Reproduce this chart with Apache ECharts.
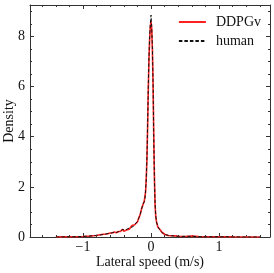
<!DOCTYPE html>
<html>
<head>
<meta charset="utf-8">
<script src="https://cdn.jsdelivr.net/npm/echarts@6/dist/echarts.min.js"></script>
<style>html,body{margin:0;padding:0;background:#fff;}#c{width:274px;height:273px;}</style>
</head>
<body>
<div id="c"></div>
<script>
var xs = [-1.40,-1.30,-1.20,-1.10,-1.00,-0.95,-0.90,-0.85,-0.80,-0.75,-0.70,-0.65,-0.60,-0.57,-0.54,-0.51,-0.48,-0.45,-0.42,-0.40,-0.38,-0.36,-0.34,-0.32,-0.30,-0.28,-0.26,-0.24,-0.22,-0.20,-0.18,-0.16,-0.14,-0.12,-0.10,-0.09,-0.08,-0.07,-0.06,-0.05,-0.04,-0.03,-0.02,-0.01,0,0.01,0.02,0.03,0.04,0.05,0.06,0.07,0.08,0.10,0.12,0.14,0.16,0.18,0.20,0.25,0.30,0.35,0.40,0.50,0.60,0.70,0.80,0.90,1.00,1.20,1.40,1.60];
var human = [0,0.005,0.01,0.01,0.02,0.03,0.04,0.05,0.07,0.08,0.10,0.13,0.15,0.17,0.19,0.18,0.21,0.23,0.30,0.24,0.28,0.26,0.33,0.30,0.38,0.45,0.42,0.50,0.55,0.62,0.75,0.90,1.10,1.30,1.40,1.50,1.85,2.3,3.2,4.5,6.0,7.2,8.0,8.5,8.85,8.4,7.6,6.2,4.0,2.3,1.3,0.85,0.6,0.42,0.32,0.28,0.18,0.13,0.10,0.07,0.05,0.04,0.03,0.025,0.03,0.015,0.01,0.01,0.01,0.005,0,0];
var ddpgv = [0,0.006,0.008,0.012,0.02,0.03,0.035,0.05,0.06,0.09,0.11,0.12,0.16,0.16,0.20,0.17,0.22,0.22,0.31,0.23,0.27,0.28,0.32,0.31,0.37,0.46,0.43,0.49,0.56,0.60,0.76,0.88,1.12,1.28,1.42,1.48,1.80,2.35,3.1,4.4,5.9,7.1,7.9,8.4,8.6,8.3,7.5,6.1,4.1,2.4,1.25,0.8,0.62,0.40,0.33,0.27,0.19,0.12,0.11,0.06,0.05,0.045,0.03,0.02,0.035,0.02,0.012,0.008,0.01,0.004,0,0];
var xMajor = [-1,0,1];
var xMinor = [-1.6,-1.4,-1.2,-0.8,-0.6,-0.4,-0.2,0.2,0.4,0.6,0.8,1.2,1.4,1.6];

function pairs(a){ return xs.map(function(x,i){ return [x,a[i]]; }); }
var font = '"Liberation Serif","DejaVu Serif",serif';
var frame = '#333';
var fmt = function(v){ return String(v).replace('-', '\u2212'); };
function xAx(pos, vals, len, labels, line){
  return {
    type:'value', position:pos, min:-1.78, max:1.75,
    axisLine:{show:line, onZero:false, lineStyle:{color:frame, width:1}},
    axisTick:{show:true, inside:true, length:len, customValues:vals, lineStyle:{color:frame}},
    axisLabel:{show:labels, customValues:xMajor, formatter:fmt, color:'#111', fontFamily:font, fontSize:14, margin:3},
    splitLine:{show:false}
  };
}
var xb = xAx('bottom', xMajor, 4, true, true);
xb.name = 'Lateral speed (m/s)'; xb.nameLocation='middle'; xb.nameGap=18; xb.nameMoveOverlap=false;
xb.nameTextStyle = {color:'#111', fontFamily:font, fontSize:14};
function yAx(pos, labels){
  return {
    type:'value', position:pos, min:0, max:9.25, interval:2,
    axisLine:{show:true, onZero:false, lineStyle:{color:frame, width:1}},
    axisTick:{show:true, inside:true, length:4, lineStyle:{color:frame}},
    minorTick:{show:true, splitNumber:4, length:2, lineStyle:{color:frame}},
    axisLabel:{show:labels, color:'#111', fontFamily:font, fontSize:14, margin:5, showMaxLabel:false},
    splitLine:{show:false}
  };
}
var yl = yAx('left', true);
yl.name='Density'; yl.nameLocation='middle'; yl.nameGap=14; yl.nameMoveOverlap=false;
yl.nameTextStyle={color:'#111', fontFamily:font, fontSize:14};

var chart = echarts.init(document.getElementById('c'), null, {renderer:'canvas'});
chart.setOption({
  animation:false,
  grid:{left:30, right:4, top:5, bottom:36, containLabel:false, outerBoundsMode:'none'},
  legend:{
    orient:'vertical', right:8, top:10, itemWidth:27, itemHeight:14, itemGap:5,
    itemStyle:{opacity:0},
    textStyle:{fontFamily:font, fontSize:14, color:'#111', padding:[0,0,0,5]},
    data:['DDPGv','human']
  },
  xAxis:[xb, xAx('bottom', xMinor, 2, false, false), xAx('top', xMajor, 4, false, true), xAx('top', xMinor, 2, false, false)],
  yAxis:[yl, yAx('right', false)],
  series:[
    {name:'DDPGv', type:'line', xAxisIndex:0, yAxisIndex:0, data:pairs(ddpgv), showSymbol:false, symbol:'none',
     lineStyle:{color:'#ff2020', width:1.6}, itemStyle:{color:'#ff2020'}},
    {name:'human', type:'line', xAxisIndex:0, yAxisIndex:0, data:pairs(human), showSymbol:false, symbol:'none',
     lineStyle:{color:'#111', width:1, type:[3.5,2]}, itemStyle:{color:'#111'}}
  ]
});
</script>
</body>
</html>
